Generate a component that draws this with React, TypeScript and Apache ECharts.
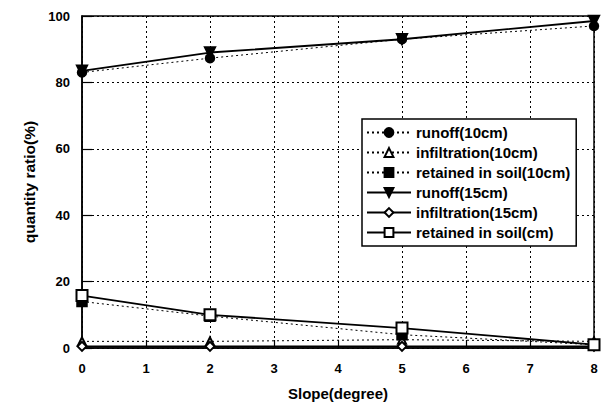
import React, { useEffect, useRef } from "react";
import * as echarts from "echarts";

const slopes = [0, 2, 5, 8];
const runoff10 = [83, 87.3, 93, 97];
const infiltration10 = [2, 2, 2.5, 2];
const retained10 = [14, 9.6, 4, 1];
const runoff15 = [83.5, 89, 93, 98.5];
const infiltration15 = [0.5, 0.5, 0.5, 0.5];
const retained15 = [15.8, 10, 6, 1];
const yTicks = [0, 20, 40, 60, 80, 100];

const triDown = "path://M0,0 L10,0 L5,9 Z";

export default function App() {
  const ref = useRef<HTMLDivElement>(null);
  useEffect(() => {
    const chart = echarts.init(ref.current!, null, { renderer: "svg" });
    const font = "Liberation Sans, Arial, sans-serif";
    const mk = (name: string, data: number[], symbol: string, dotted: boolean, size: number) => ({
      name,
      type: "line",
      data: slopes.map((s, i) => [s, data[i]]),
      symbol,
      symbolSize: size,
      showSymbol: true,
      lineStyle: { color: "#000", width: dotted ? 1 : 1.8, type: dotted ? [2, 3] : "solid" },
      itemStyle: { color: "#000", borderColor: "#000", borderWidth: 1.5 },
      z: dotted ? 2 : 3,
    });
    chart.setOption({
      animation: false,
      backgroundColor: "#fff",
      grid: { left: 82, right: 8, top: 16, bottom: 59, show: true, borderColor: "#000", borderWidth: 1.5 },
      legend: {
        orient: "vertical",
        left: 362,
        top: 119,
        width: 218,
        padding: [6, 6, 6, 4],
        itemGap: 5,
        itemWidth: 44,
        itemHeight: 11,
        borderColor: "#000",
        borderWidth: 1.5,
        backgroundColor: "#fff",
        textStyle: { fontFamily: font, fontWeight: "bold", fontSize: 15, color: "#000" },
        data: [
          "runoff(10cm)",
          "infiltration(10cm)",
          "retained in soil(10cm)",
          "runoff(15cm)",
          "infiltration(15cm)",
          "retained in soil(cm)",
        ],
      },
      xAxis: {
        type: "value",
        min: 0,
        max: 8,
        interval: 1,
        name: "Slope(degree)",
        nameLocation: "middle",
        nameGap: 38,
        nameTextStyle: { fontFamily: font, fontWeight: "bold", fontSize: 15, color: "#000" },
        axisLine: { lineStyle: { color: "#000", width: 1.5 } },
        axisTick: { inside: true, length: 8, lineStyle: { color: "#000", width: 1.2 } },
        axisLabel: { fontFamily: font, fontWeight: "bold", fontSize: 13, color: "#000", margin: 14 },
        splitLine: { show: true, lineStyle: { color: "#000", type: [2, 3], width: 1 } },
      },
      yAxis: {
        type: "value",
        min: 0,
        max: 100,
        interval: 20,
        name: "quantity ratio(%)",
        nameLocation: "middle",
        nameGap: 44,
        nameTextStyle: { fontFamily: font, fontWeight: "bold", fontSize: 15.5, color: "#000" },
        axisLine: { show: true, lineStyle: { color: "#000", width: 1.5 } },
        axisTick: { show: true, inside: true, length: 10, lineStyle: { color: "#000", width: 1.2 } },
        axisLabel: {
          fontFamily: font,
          fontWeight: "bold",
          fontSize: 13,
          color: "#000",
          margin: 12,
          formatter: (v: number) => (yTicks.includes(v) ? String(v) : ""),
        },
        splitLine: { show: true, lineStyle: { color: "#000", type: [2, 3], width: 1 } },
      },
      series: [
        mk("runoff(10cm)", runoff10, "circle", true, 9),
        mk("infiltration(10cm)", infiltration10, "emptyTriangle", true, 8),
        mk("retained in soil(10cm)", retained10, "rect", true, 10),
        mk("runoff(15cm)", runoff15, triDown, false, 11),
        mk("infiltration(15cm)", infiltration15, "emptyDiamond", false, 9),
        mk("retained in soil(cm)", retained15, "emptyRect", false, 11),
      ],
    });
    return () => chart.dispose();
  }, []);
  return <div ref={ref} style={{ position: "absolute", left: 0, top: 0, width: 602, height: 407 }} />;
}
